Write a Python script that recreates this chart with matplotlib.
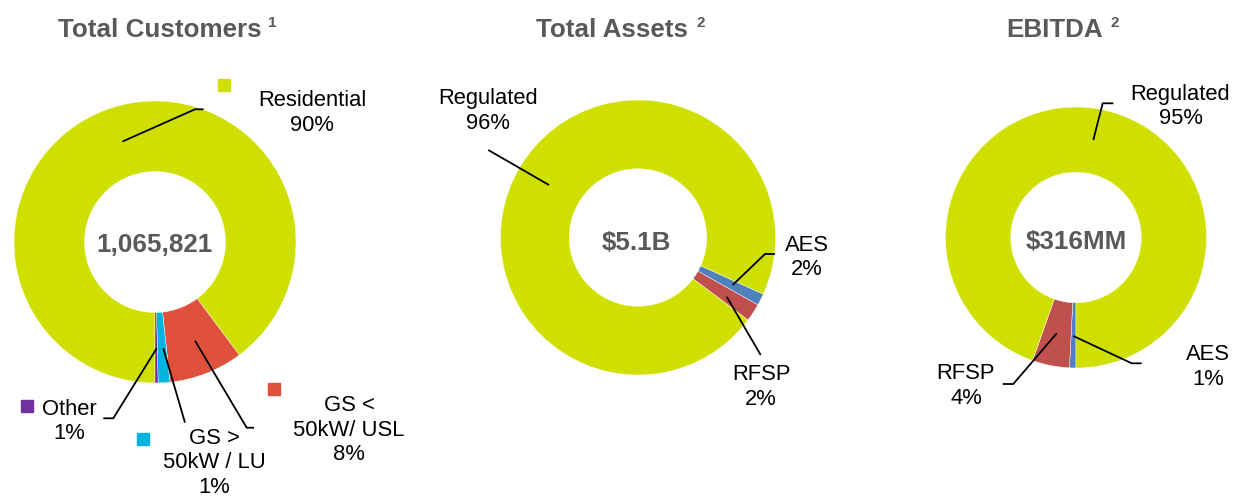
import matplotlib
matplotlib.use('Agg')
import matplotlib.pyplot as plt

plt.rcParams['font.family'] = ['Liberation Sans', 'DejaVu Sans']

W, H = 1233, 498

# data, listed clockwise
cust_names = ['Residential', 'GS <\n50kW/ USL', 'GS >\n50kW / LU', 'Other']
cust_values = [89.8, 8.5, 1.35, 0.35]
cust_pct = ['90%', '8%', '1%', '1%']
cust_colors = ['#CFE000', '#E0513C', '#00B4E2', '#7030A0']

asset_names = ['AES', 'RFSP', 'Regulated']
asset_values = [1.4, 2.1, 96.5]
asset_pct = ['2%', '2%', '96%']

ebitda_names = ['AES', 'RFSP', 'Regulated']
ebitda_values = [0.8, 4.6, 94.6]
ebitda_pct = ['1%', '4%', '95%']

seg_colors = ['#4F81BD', '#C0504D', '#CFE000']

titles = ['Total Customers', 'Total Assets', 'EBITDA']
notes = ['1', '2', '2']
totals = ['1,065,821', '$5.1B', '$316MM']

GRAY = '#595959'


def Y(y):
    # pixel rows are measured from the top
    return H - y


fig = plt.figure(figsize=(W / 100, H / 100), dpi=100)
ax = fig.add_axes([0, 0, 1, 1])


def donut(values, colors, cx, cy, r, start):
    ax.pie(values, colors=colors, startangle=start, counterclock=False,
           radius=r, center=(cx, Y(cy)),
           wedgeprops=dict(width=r / 2, edgecolor='white', linewidth=0.3))


def label(text, x, y):
    ax.text(x, Y(y + 2), text, ha='center', va='center', fontsize=15.8,
            color='black', linespacing=1.22)


def leader(pts):
    ax.plot([p[0] for p in pts], [Y(p[1]) for p in pts], color='black', lw=1.3,
            solid_capstyle='butt')


def title(text, note, x, y, nx):
    ax.text(x, Y(y), text, ha='center', va='center', fontsize=18.7,
            fontweight='bold', color=GRAY)
    ax.text(nx, Y(y - 7), note, ha='center', va='center', fontsize=11,
            fontweight='bold', color=GRAY)


# Total Customers
donut(cust_values, cust_colors, 155, 242, 141, -90)
ax.text(155, Y(245), totals[0], ha='center', va='center', fontsize=18.7,
        fontweight='bold', color=GRAY)
title(titles[0], notes[0], 160, 30, 272)
cust_pos = [(312, 111), (349, 428), (214, 461), (69, 419.5)]
cust_box = [(224, 85), (274, 389), (142.5, 438.5), (26.5, 405.5)]
cust_lines = [
    [(122.5, 141.5), (195, 109.3), (203.5, 109.3)],
    [(195, 340.7), (246.7, 427.7), (254, 427.7)],
    [(163.3, 348.3), (185, 422.7)],
    [(156.7, 348.3), (113.3, 418.3), (103.3, 418.3)],
]
for name, pct, pos, box, pts, c in zip(cust_names, cust_pct, cust_pos,
                                       cust_box, cust_lines, cust_colors):
    label(f'{name}\n{pct}', *pos)
    ax.plot(box[0], Y(box[1]), marker='s', markersize=8, color=c, mec=c)
    leader(pts)

# Total Assets
donut(asset_values, seg_colors, 638, 237.5, 137.5, -24.3)
ax.text(636, Y(243), totals[1], ha='center', va='center', fontsize=18.7,
        fontweight='bold', color=GRAY)
title(titles[1], notes[1], 612, 30, 701)
asset_pos = [(807, 255.5), (761, 385), (488, 109)]
asset_lines = [
    [(732.7, 285), (765, 254), (775, 254)],
    [(726.7, 296.7), (760.7, 355)],
    [(488.3, 150), (549, 185)],
]
for name, pct, pos, pts in zip(asset_names, asset_pct, asset_pos, asset_lines):
    label(f'{name}\n{pct}', *pos)
    leader(pts)

# EBITDA
donut(ebitda_values, seg_colors, 1076, 237.5, 130.5, -90)
ax.text(1076.5, Y(242), totals[2], ha='center', va='center', fontsize=18.7,
        fontweight='bold', color=GRAY)
title(titles[2], notes[2], 1055, 30, 1115)
ebitda_pos = [(1208, 365), (966, 384), (1180.5, 104.5)]
ebitda_lines = [
    [(1073.3, 336), (1131.7, 363.3), (1141.7, 363.3)],
    [(1056.7, 333.3), (1013.3, 384), (1002.7, 384)],
    [(1093.3, 140), (1102.7, 103.3), (1113.3, 103.3)],
]
for name, pct, pos, pts in zip(ebitda_names, ebitda_pct, ebitda_pos, ebitda_lines):
    label(f'{name}\n{pct}', *pos)
    leader(pts)

ax.set_xlim(0, W)
ax.set_ylim(0, H)
ax.set_aspect('equal')
ax.axis('off')

fig.savefig('out.png', dpi=100, facecolor='white')
